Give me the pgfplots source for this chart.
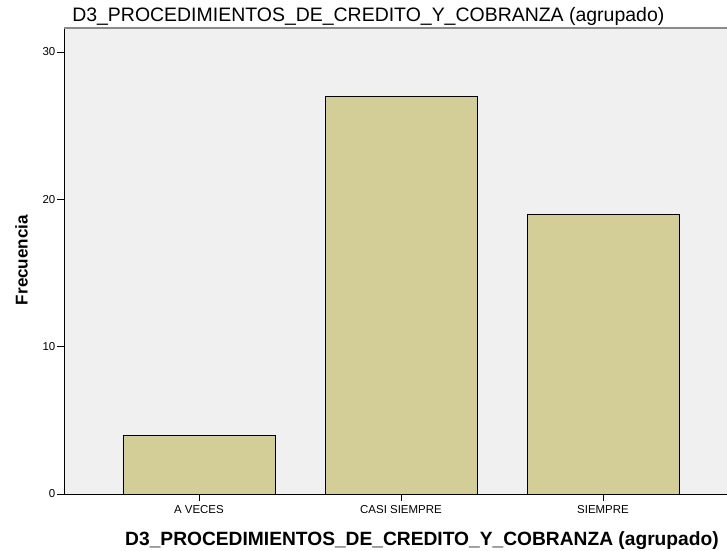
\documentclass[border=0pt]{standalone}
\usepackage{pgfplots}
\pgfplotsset{compat=1.18}
\usepackage{fontspec}
\setmainfont{Liberation Sans}
\definecolor{barfill}{HTML}{D3CE97}
\definecolor{plotbg}{HTML}{F0F0F0}
\definecolor{topline}{HTML}{8A8A8A}

\begin{document}
\begin{tikzpicture}[x=0.75pt,y=0.75pt]
\begin{axis}[
    scale only axis,
    width=497.25pt,
    height=349.5pt,
    xmin=-0.668, xmax=2.614,
    ymin=0, ymax=31.63,
    axis lines*=left,
    axis line style={black, line width=0.75pt},
    axis background/.style={fill=plotbg},
    xtick=data,
    xticklabels={A VECES, CASI SIEMPRE, SIEMPRE},
    ytick={0,10,20,30},
    tick align=outside,
    major tick length=5pt,
    tick style={black, line width=0.6pt},
    ticklabel style={font=\fontsize{8.6}{9}\selectfont},
    /pgf/number format/assume math mode=true,
    yticklabel style={xshift=2pt},
    clip=false,
]
\addplot[ybar, bar width=0.752, fill=barfill, draw=black, line width=0.6pt]
    coordinates {(0,4) (1,27) (2,19)};
\draw[topline, line width=1.2pt] (rel axis cs:0,1) -- (rel axis cs:1,1);
\end{axis}
% title and axis labels (pixel positions from the reference, lower-left of plot = origin)
\node[font=\fontsize{14.6}{16}\selectfont, anchor=base west, inner sep=0pt] at (8,472)
    {D3\_PROCEDIMIENTOS\_DE\_CREDITO\_Y\_COBRANZA (agrupado)};
\node[font=\fontsize{14.4}{16}\selectfont\bfseries, anchor=base, inner sep=0pt] at (358,-51)
    {D3\_PROCEDIMIENTOS\_DE\_CREDITO\_Y\_COBRANZA (agrupado)};
\node[font=\fontsize{12.8}{14}\selectfont\bfseries, rotate=90, inner sep=0pt] at (-42.5,234) {Frecuencia};
\pgfresetboundingbox
\path[use as bounding box] (-64,-56) rectangle (663,494);
\end{tikzpicture}
\end{document}
